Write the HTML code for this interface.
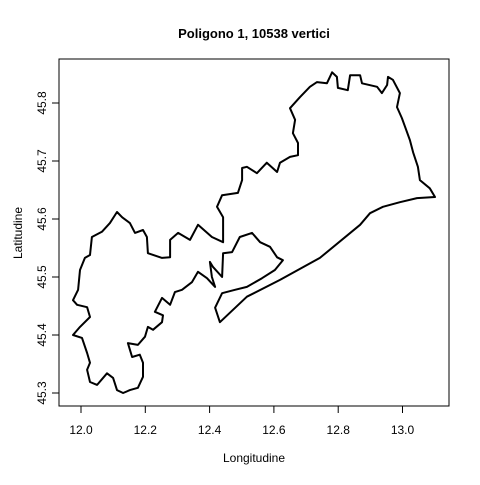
<!DOCTYPE html>
<html><head><meta charset="utf-8"><style>
body{margin:0;background:#fff}
text{font-family:"Liberation Sans",Arial,sans-serif;fill:#000}
</style></head><body>
<svg id="chart" width="480" height="480" viewBox="0 0 480 480" xmlns="http://www.w3.org/2000/svg">
<rect width="480" height="480" fill="#fff"/>
<text x="254" y="38" text-anchor="middle" font-size="13" font-weight="bold">Poligono 1, 10538 vertici</text>
<rect x="59" y="59" width="390" height="347" fill="none" stroke="#000" stroke-width="1"/>
<g id="xaxis"></g>
<g id="yaxis"></g>
<text x="254" y="462" text-anchor="middle" font-size="12">Longitudine</text>
<text transform="translate(22,233) rotate(-90)" text-anchor="middle" font-size="12">Latitudine</text>
<path id="poly" fill="none" stroke="#000" stroke-width="2" stroke-linejoin="round"/>
</svg>
<script>
const xTicks=[12.0,12.2,12.4,12.6,12.8,13.0];
const xTickLabels=["12.0","12.2","12.4","12.6","12.8","13.0"];
const yTicks=[45.3,45.4,45.5,45.6,45.7,45.8];
const yTickLabels=["45.3","45.4","45.5","45.6","45.7","45.8"];
const lon=[12.112,12.128,12.152,12.168,12.193,12.205,12.208,12.252,12.277,12.277,12.302,12.339,12.364,12.407,12.442,12.442,12.423,12.439,12.488,12.501,12.501,12.516,12.547,12.578,12.610,12.619,12.650,12.675,12.675,12.659,12.666,12.650,12.681,12.712,12.734,12.765,12.781,12.796,12.799,12.830,12.837,12.868,12.874,12.921,12.936,12.952,12.955,12.970,12.992,12.983,12.998,13.023,13.033,13.048,13.054,13.085,13.101,13.045,12.992,12.939,12.899,12.868,12.743,12.619,12.516,12.432,12.417,12.439,12.479,12.516,12.563,12.603,12.628,12.610,12.588,12.557,12.532,12.494,12.470,12.442,12.439,12.411,12.401,12.407,12.417,12.392,12.364,12.345,12.314,12.292,12.277,12.252,12.230,12.255,12.252,12.224,12.208,12.199,12.177,12.146,12.159,12.183,12.193,12.193,12.177,12.152,12.131,12.112,12.100,12.081,12.050,12.028,12.019,12.028,12.019,12.003,11.975,11.997,12.028,12.019,11.988,11.975,11.991,11.997,12.012,12.028,12.034,12.065,12.090];
const lat=[45.612,45.603,45.593,45.576,45.581,45.569,45.541,45.533,45.534,45.564,45.576,45.564,45.590,45.569,45.560,45.603,45.621,45.641,45.645,45.667,45.688,45.690,45.679,45.697,45.681,45.697,45.707,45.710,45.731,45.748,45.771,45.791,45.810,45.828,45.836,45.834,45.853,45.845,45.826,45.822,45.848,45.848,45.834,45.828,45.817,45.831,45.845,45.840,45.817,45.793,45.774,45.736,45.715,45.690,45.667,45.653,45.638,45.636,45.629,45.621,45.610,45.590,45.533,45.495,45.466,45.422,45.447,45.472,45.478,45.483,45.498,45.512,45.529,45.534,45.552,45.560,45.576,45.569,45.543,45.541,45.500,45.517,45.526,45.500,45.483,45.498,45.509,45.491,45.478,45.474,45.452,45.464,45.440,45.434,45.422,45.409,45.414,45.397,45.383,45.386,45.362,45.366,45.352,45.328,45.309,45.305,45.300,45.305,45.326,45.334,45.314,45.319,45.340,45.352,45.369,45.395,45.400,45.414,45.431,45.448,45.452,45.460,45.478,45.512,45.533,45.538,45.569,45.578,45.593];
const NS="http://www.w3.org/2000/svg";
function xs(v){return 81+(v-12.0)*321.5;}
function ys(v){return 393-(v-45.3)*580;}
const xa=document.getElementById('xaxis'), ya=document.getElementById('yaxis');
function mk(t,a){const e=document.createElementNS(NS,t);for(const k in a)e.setAttribute(k,a[k]);return e;}
const xl=mk('line',{x1:xs(xTicks[0]),x2:xs(xTicks[xTicks.length-1]),y1:406,y2:406,stroke:'#000'});


xa.appendChild(xl);
xTicks.forEach((v,i)=>{
  const t=mk('line',{x1:xs(v),x2:xs(v),y1:406,y2:413,stroke:'#000'});
  
  
  xa.appendChild(t);
  const l=mk('text',{x:xs(v),y:434,'text-anchor':'middle','font-size':'12'});
  
  
  l.textContent=xTickLabels[i];xa.appendChild(l);
});
yTicks.forEach((v,i)=>{
  const t=mk('line',{x1:52,x2:59,y1:ys(v),y2:ys(v),stroke:'#000'});
  
  
  ya.appendChild(t);
  const l=mk('text',{transform:'translate(46,'+ys(v)+') rotate(-90)','text-anchor':'middle','font-size':'12'});
  
  
  l.textContent=yTickLabels[i];ya.appendChild(l);
});
let d='';
lon.forEach((v,i)=>{d+=(i?'L':'M')+xs(v).toFixed(1)+','+ys(lat[i]).toFixed(1);});
document.getElementById('poly').setAttribute('d',d+'Z');
</script>
</body></html>
